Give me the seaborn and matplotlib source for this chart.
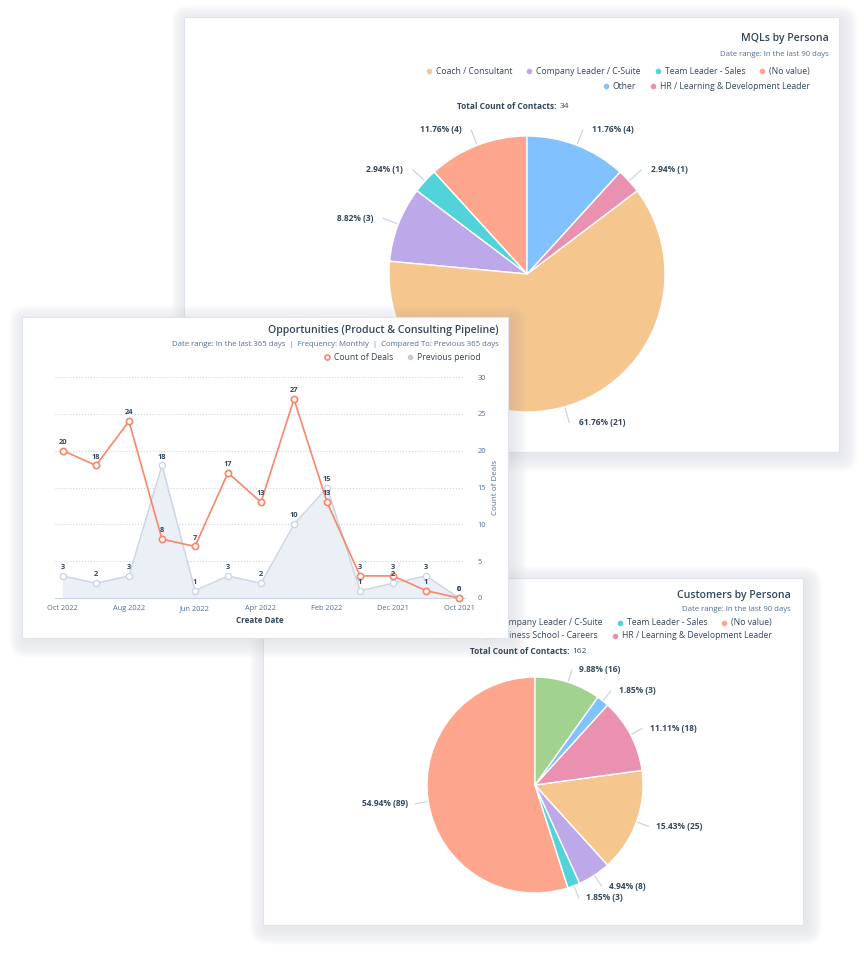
import matplotlib
matplotlib.use("Agg")
import matplotlib.pyplot as plt
import numpy as np
import pandas as pd
import seaborn as sns
from matplotlib.patches import FancyBboxPatch, Rectangle

sns.set_style("white")
plt.rcParams['font.family'] = ['Open Sans', 'DejaVu Sans']

W, H = 864, 960
DARK = '#33475b'
SLATE = '#516f90'
LINE_GREY = '#cbd6e2'
ORANGE = '#f8866a'

# MQLs by persona
mql_personas = ['(No value)', 'Team Leader - Sales', 'Company Leader / C-Suite',
                'Coach / Consultant', 'HR / Learning & Development Leader', 'Other']
mql_counts = [4, 1, 3, 21, 1, 4]
mql_colors = ['#fea58e', '#51d3d9', '#bda9ea', '#f5c78e', '#ea90b1', '#81c1fd']

# Customers by persona
cust_personas = ['(No value)', 'Team Leader - Sales', 'Company Leader / C-Suite',
                 'Coach / Consultant', 'HR / Learning & Development Leader',
                 'Business School - Careers', 'Other']
cust_counts = [89, 3, 8, 25, 18, 3, 16]
cust_colors = ['#fea58e', '#51d3d9', '#bda9ea', '#f5c78e', '#ea90b1', '#81c1fd', '#a2d28f']

# Opportunities, monthly
months = ['Oct 2021', 'Nov 2021', 'Dec 2021', 'Jan 2022', 'Feb 2022', 'Mar 2022', 'Apr 2022',
          'May 2022', 'Jun 2022', 'Jul 2022', 'Aug 2022', 'Sep 2022', 'Oct 2022']
deals = [0, 1, 3, 3, 13, 27, 13, 17, 7, 8, 24, 18, 20]
previous = [0, 3, 2, 1, 15, 10, 2, 3, 1, 18, 3, 2, 3]

fig = plt.figure(figsize=(W / 100, H / 100), dpi=100)
fig.patch.set_facecolor('white')
renderer = fig.canvas.get_renderer()


def px_axes(x0, y0, x1, y1, z):
    return fig.add_axes([x0 / W, 1 - y1 / H, (x1 - x0) / W, (y1 - y0) / H], zorder=z)


def card(x0, y0, x1, y1, z):
    m = 26
    ax = px_axes(x0 - m, y0 - m, x1 + m, y1 + m, z)
    ax.set_xlim(x0 - m, x1 + m)
    ax.set_ylim(y1 + m, y0 - m)
    ax.axis('off')
    ax.patch.set_alpha(0)
    # soft shadow
    for k in range(16, 0, -1):
        ax.add_patch(FancyBboxPatch((x0 - k + 3, y0 - k + 4), x1 - x0 + 2 * k, y1 - y0 + 2 * k,
                                    boxstyle='round,pad=0,rounding_size=%d' % (k + 2),
                                    fc='#9a9ea4', ec='none', alpha=0.011))
    ax.add_patch(Rectangle((x0, y0), x1 - x0, y1 - y0, fc='white', ec='#dfe3eb', lw=0.8))
    return ax


def legend_row(ax, labels, colors, x_right, y, hollow=None, fs=6.2):
    hollow = hollow or [False] * len(labels)
    x = x_right
    for lab, col, hol in zip(labels, colors, hollow):
        t = ax.text(x, y, lab, ha='right', va='center', fontsize=fs, color=DARK)
        w = t.get_window_extent(renderer).width
        if hol:
            ax.plot(x - w - 7, y, 'o', ms=3.6, mfc='white', mec=col, mew=1.2)
        else:
            ax.plot(x - w - 7, y, 'o', ms=4, color=col, mec='none')
        x = x - w - 7 - 17


def header(ax, title, subtitle, x_right, y, gap=16):
    ax.text(x_right, y, title, ha='right', va='center', fontsize=7.6,
            fontweight='semibold', color=DARK)
    ax.text(x_right, y + gap, subtitle, ha='right', va='center', fontsize=5.6, color=SLATE)


def total_line(ax, n, cx, y):
    t1 = ax.text(0, y, 'Total Count of Contacts:', ha='left', va='center',
                 fontsize=6, fontweight='bold', color=DARK)
    t2 = ax.text(0, y, str(n), ha='left', va='center', fontsize=6, color=DARK)
    w1 = t1.get_window_extent(renderer).width
    w2 = t2.get_window_extent(renderer).width
    x0 = cx - (w1 + 3 + w2) / 2
    t1.set_x(x0)
    t2.set_x(x0 + w1 + 3)


def persona_pie(cx, cy, r, counts, colors, z):
    R = 1.8
    ax = px_axes(cx - R * r, cy - R * r, cx + R * r, cy + R * r, z)
    wedges, _ = ax.pie(counts, colors=colors, startangle=90, counterclock=True,
                       wedgeprops=dict(edgecolor='white', linewidth=1))
    ax.set_xlim(-R, R)
    ax.set_ylim(-R, R)
    ax.set_aspect('equal')
    ax.axis('off')
    ax.patch.set_alpha(0)
    total = sum(counts)
    for w, c in zip(wedges, counts):
        ang = np.deg2rad((w.theta1 + w.theta2) / 2)
        ca, sa = np.cos(ang), np.sin(ang)
        ax.plot([1.01 * ca, 1.12 * ca], [1.01 * sa, 1.12 * sa], color=LINE_GREY, lw=0.9)
        side = 1 if ca >= 0 else -1
        ax.text(1.12 * ca + side * 0.07, 1.12 * sa, '%.2f%% (%d)' % (c / total * 100, c),
                ha='left' if side > 0 else 'right', va='center', fontsize=6,
                fontweight='bold', color=DARK)
    return ax


# card 1: MQLs by Persona
c1 = card(184, 17, 839, 452, 1)
header(c1, 'MQLs by Persona', 'Date range: In the last 90 days', 829, 38)
legend_row(c1, mql_personas[:4], mql_colors[:4], 810, 71)
legend_row(c1, mql_personas[4:], mql_colors[4:], 810, 86)
total_line(c1, sum(mql_counts), 513, 106)
persona_pie(527, 274, 138, mql_counts, mql_colors, 2)

# card 3: Customers by Persona
c3 = card(263, 578, 803, 925, 1)
header(c3, 'Customers by Persona', 'Date range: In the last 90 days', 791, 596, gap=14)
legend_row(c3, cust_personas[:4], cust_colors[:4], 772, 623)
legend_row(c3, cust_personas[4:], cust_colors[4:], 772, 636)
total_line(c3, sum(cust_counts), 528, 652)
persona_pie(535, 785, 108, cust_counts, cust_colors, 2)

# card 2: Opportunities line chart
c2 = card(22, 317, 508, 638, 5)
header(c2, 'Opportunities (Product & Consulting Pipeline)',
       'Date range: In the last 365 days  |  Frequency: Monthly  |  Compared To: Previous 365 days',
       499, 330, gap=15)
legend_row(c2, ['Previous period', 'Count of Deals'], ['#c4ccd6', ORANGE], 481, 357,
           hollow=[False, True])

ax = px_axes(55, 377, 465, 598, 6)
ax.patch.set_alpha(0)
x = np.arange(len(months))
df = pd.DataFrame({'idx': x, 'previous': previous, 'deals': deals})
ax.fill_between(df['idx'], df['previous'], color='#eaf0f6', zorder=1)
sns.lineplot(data=df, x='idx', y='previous', ax=ax, color=LINE_GREY, lw=1, marker='o', ms=4.5,
             mfc='white', mec=LINE_GREY, mew=1, zorder=3, clip_on=False)
sns.lineplot(data=df, x='idx', y='deals', ax=ax, color=ORANGE, lw=1.2, marker='o', ms=4.5,
             mfc='white', mec=ORANGE, mew=1.2, zorder=4, clip_on=False)
for i in x:
    for v in (previous[i], deals[i]):
        ax.annotate(str(v), (i, v), xytext=(0, 3.5), textcoords='offset points', ha='center',
                    va='bottom', fontsize=5.3, fontweight='bold', color=DARK, zorder=5)

ax.set_xlim(12.24, -0.18)
ax.set_ylim(0, 30)
ax.set_xticks(x[::2])
ax.set_xticklabels(months[::2], fontsize=5.3, color=SLATE)
ax.yaxis.tick_right()
ax.yaxis.set_label_position('right')
ax.set_yticks(range(0, 31, 5))
ax.set_yticklabels([str(v) for v in range(0, 31, 5)], fontsize=5.3, color=SLATE)
ax.tick_params(axis='y', length=0, pad=9)
ax.tick_params(axis='x', length=3, color=LINE_GREY, pad=2)
ax.grid(axis='y', ls=':', color=LINE_GREY, lw=0.8)
ax.grid(axis='x', visible=False)
for s in ['top', 'left', 'right']:
    ax.spines[s].set_visible(False)
ax.spines['bottom'].set_color(LINE_GREY)
ax.spines['bottom'].set_linewidth(0.8)
ax.set_xlabel('Create Date', fontsize=5.8, fontweight='bold', color=DARK, labelpad=3)
ax.set_ylabel('Count of Deals', fontsize=5.8, color=SLATE, rotation=90, labelpad=4)

plt.savefig('out.png', dpi=100, facecolor='white')
